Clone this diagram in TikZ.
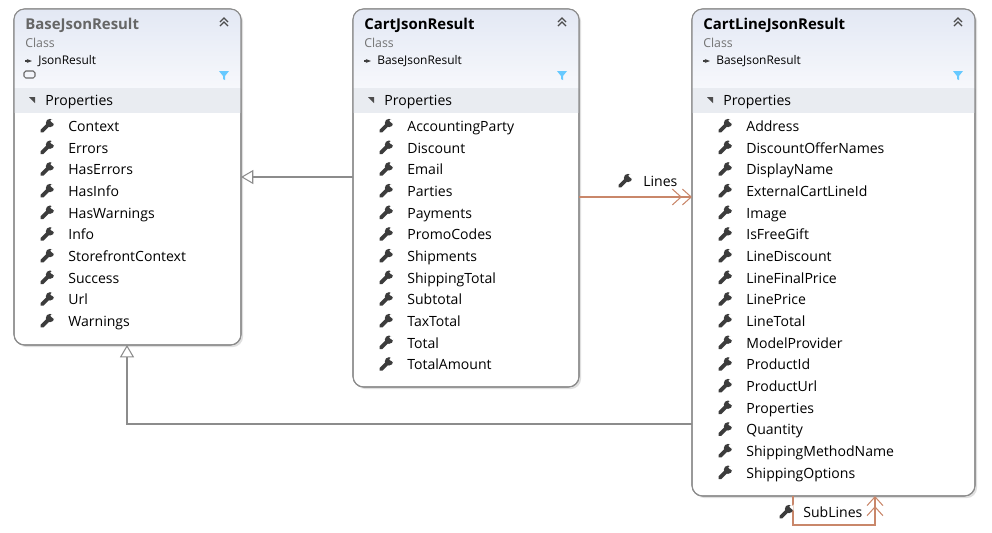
\documentclass[tikz,border=0pt]{standalone}
\usepackage{fontspec}
\setmainfont{Open Sans}
\usetikzlibrary{arrows.meta,positioning,shadows}

\definecolor{headblue}{HTML}{E3E8F4}
\definecolor{propgray}{HTML}{E9ECF1}
\definecolor{edgegray}{HTML}{8C8C8C}
\definecolor{assoc}{HTML}{C9876A}
\definecolor{wrenchc}{HTML}{3C3C3C}

\tikzset{
  classbox/.style={draw=edgegray, rounded corners=6pt, fill=white, line width=0.6pt,
    drop shadow={shadow xshift=1.2pt, shadow yshift=-1.2pt, fill=black!25}},
  title/.style={anchor=west, font=\fontsize{8.5}{9}\selectfont\bfseries, inner sep=0pt,
    text height=1.6ex, text depth=0.45ex},
  kind/.style={anchor=west, font=\fontsize{7}{8}\selectfont, text=black!55, inner sep=0pt},
  base/.style={anchor=west, font=\fontsize{6.8}{8}\selectfont, inner sep=0pt},
  prop/.style={anchor=west, font=\fontsize{8}{9}\selectfont, inner sep=0pt,
    text height=1.6ex, text depth=0.45ex},
  item/.style={anchor=west, font=\fontsize{8}{9}\selectfont, inner sep=0pt,
    text height=1.6ex, text depth=0.45ex},
  inherit/.style={draw=edgegray, line width=0.6pt, -{Triangle[open, length=7pt, width=8pt]}},
  assocline/.style={draw=assoc, line width=0.6pt, -{Straight Barb[length=5pt, width=9pt]Straight Barb[length=5pt, width=9pt]}},
  wrench/.pic={
    \draw[wrenchc, line width=2.2pt, line cap=round] (-5,5) -- (1,-1);
    \fill[wrenchc] (3,-3) circle (4.2);
    \fill[white] (4.5,-4.5) -- (7.5,-1.5) -- (7.5,-7.5) -- cycle;
    \fill[white] (5.2,-5.2) circle (1.8);
  },
  chevron/.pic={
    \draw[black!70, line width=0.7pt] (-4,2) -- (0,-2) -- (4,2);
    \draw[black!70, line width=0.7pt] (-4,6) -- (0,2) -- (4,6);
  },
  funnel/.pic={
    \fill[blue!35!cyan!60] (-5,-4) -- (5,-4) -- (1,1) -- (1,5) -- (-1,4) -- (-1,1) -- cycle;
  },
  opener/.pic={
    \fill[black!70] (-3,-3) -- (3,-3) -- (3,3) -- cycle;
  },
  baseArrow/.pic={
    \draw[black!75, line width=0.8pt, -{Stealth[length=3pt]}] (-4,0) -- (3,0);
  }
}

% draws one class; #1 name, #2 left, #3 right, #4 bottom, #5 title, #6 base class
\newcommand\classbox[6]{
  \path[classbox] (#2,9) rectangle (#3,#4);
  \begin{scope}
    \clip[rounded corners=6pt] (#2,9) rectangle (#3,#4);
    \shade[top color=headblue, bottom color=white!70!headblue] (#2,9) rectangle (#3,88);
    \fill[propgray] (#2,88) rectangle (#3,113);
  \end{scope}
  \draw[edgegray, rounded corners=6pt, line width=0.6pt] (#2,9) rectangle (#3,#4);
  \node[title] (#1-title) at (#2+11,24) {#5};
  \node[kind] (#1-kind) at (#2+11,43) {Class};
  \pic at (#2+15,61) {baseArrow};
  \node[base] (#1-base) at (#2+24,61) {#6};
  \pic at (#3-17,20) {chevron};
  \pic at (#3-17,75) {funnel};
  \pic at (#2+18,100) {opener};
  \node[prop] (#1-props) at (#2+31,100) {Properties};
}

\begin{document}
\begin{tikzpicture}[x=0.02cm, y=-0.02cm]
  \useasboundingbox (0,0) rectangle (992,532);

  \classbox{base}{14}{241}{345}{\textcolor{black!60}{BaseJsonResult}}{JsonResult}
  \draw[black!60, line width=0.6pt, rounded corners=1pt] (24,71) rectangle (35,78);
  \classbox{cart}{353}{579}{387}{CartJsonResult}{BaseJsonResult}
  \classbox{line}{692}{975}{496}{CartLineJsonResult}{BaseJsonResult}

  \foreach \name [count=\i from 0] in {Context, Errors, HasErrors, HasInfo, HasWarnings,
      Info, StorefrontContext, Success, Url, Warnings} {
    \pic at (47,126+21.67*\i) {wrench};
    \node[item] (base-\i) at (68,126+21.67*\i) {\name};
  }
  \foreach \name [count=\i from 0] in {AccountingParty, Discount, Email, Parties, Payments,
      PromoCodes, Shipments, ShippingTotal, Subtotal, TaxTotal, Total, TotalAmount} {
    \pic at (386,126+21.67*\i) {wrench};
    \node[item] (cart-\i) at (407,126+21.67*\i) {\name};
  }
  \foreach \name [count=\i from 0] in {Address, DiscountOfferNames, DisplayName,
      ExternalCartLineId, Image, IsFreeGift, LineDiscount, LineFinalPrice, LinePrice,
      LineTotal, ModelProvider, ProductId, ProductUrl, Properties, Quantity,
      ShippingMethodName, ShippingOptions} {
    \pic at (725,126+21.67*\i) {wrench};
    \node[item] (line-\i) at (746,126+21.67*\i) {\name};
  }

  % inheritance
  \coordinate (cartL) at (353,177);
  \coordinate (baseR) at (241,177);
  \draw[inherit] (cartL) -- (baseR);
  \coordinate (lineL) at (692,424);
  \coordinate (baseB) at (127,345);
  \draw[inherit] (lineL) -| (baseB);

  % associations
  \coordinate (cartR) at (579,197);
  \coordinate (lineIn) at (692,197);
  \draw[assocline] (cartR) -- (lineIn);
  \pic at (625,181) {wrench};
  \node[item] (lines) at (643,181) {Lines};

  \coordinate (subOut) at (793,496);
  \coordinate (subIn) at (875,496);
  \draw[assocline] (subOut) -- (793,525) -| (subIn);
  \pic at (786,512) {wrench};
  \node[item] (sublines) at (803,512) {SubLines};
\end{tikzpicture}
\end{document}
